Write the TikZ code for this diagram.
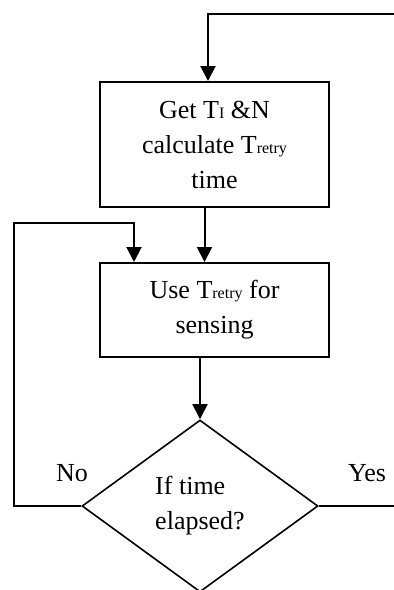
\documentclass[tikz,border=0pt]{standalone}
\usepackage{fontspec}
\setmainfont{Liberation Serif}
\usetikzlibrary{arrows.meta,shapes.geometric}
\newcommand\lowtxt[1]{{\fontsize{16}{16}\selectfont #1}}
\tikzset{
  every node/.style={font=\fontsize{26}{35}\selectfont},
  stepbox/.style={draw, line width=2pt, minimum width=229pt, inner sep=0pt, align=center},
  decision/.style={draw, diamond, line width=1.6pt, minimum width=236pt, minimum height=172pt, inner sep=0pt, align=left},
  conn/.style={line width=2pt},
  arr/.style={conn, -{Triangle[width=15pt,length=15pt]}},
  lbl/.style={inner sep=0pt}
}
\begin{document}
\begin{tikzpicture}[x=1pt,y=-1pt]
  \clip (0,0) rectangle (394,590);
  \fill[white] (0,0) rectangle (394,590);

  % process boxes
  \node[stepbox, minimum height=125pt] (b1) at (214.5,144.5)
    {Get T\lowtxt{I} \&N\\calculate T\lowtxt{retry}\\time};
  \node[stepbox, minimum height=94pt] (b2) at (214.5,310)
    {Use T\lowtxt{retry} for\\sensing};

  % decision
  \node[decision] (d) at (200,506) {If time\\elapsed?};

  % branch labels
  \node[lbl] (no) at (72,473) {No};
  \node[lbl] (yes) at (367,473) {Yes};

  % free ends of the connectors
  \coordinate (topR) at (400,14);
  \coordinate (nl) at (14,223);
  \coordinate (yesR) at (400,506);

  % connectors
  \draw[arr] (topR) -| ([xshift=-6.5pt]b1.north);
  \draw[arr] ([xshift=-10pt]b1.south) -- ([xshift=-10pt]b2.north);
  \draw[arr] (b2.south -| d.north) -- (d.north);
  \draw[arr] (d.west) -| (nl) -| ([xshift=-80.5pt]b2.north);
  \draw[conn, line width=2.5pt] (d.east) -- (yesR);
\end{tikzpicture}
\end{document}
